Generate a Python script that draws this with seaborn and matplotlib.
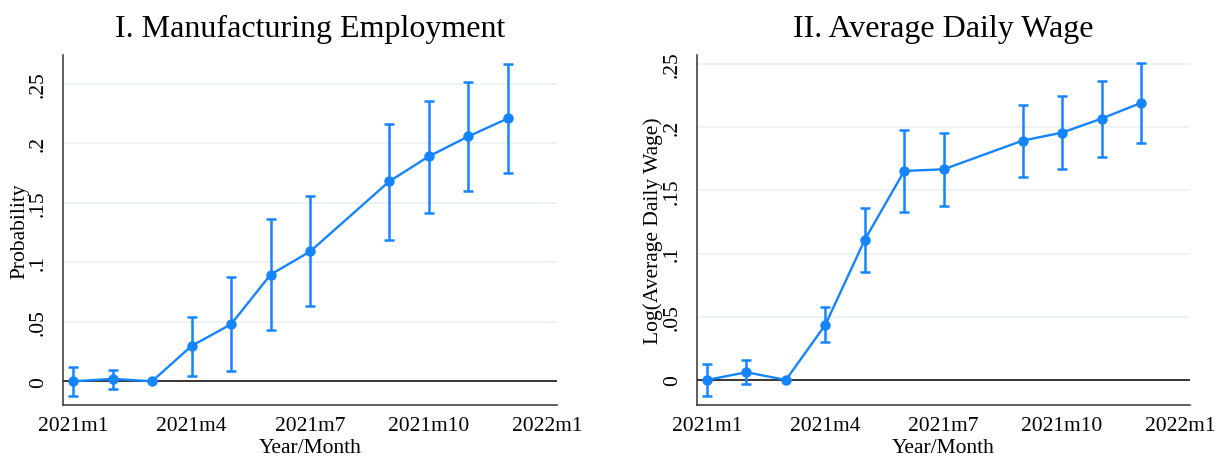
import numpy as np
import pandas as pd
import matplotlib
matplotlib.use("Agg")
import matplotlib.pyplot as plt
import seaborn as sns

# ===============================
# DATA
# ===============================
months = [0, 1, 2, 3, 4, 5, 6, 8, 9, 10, 11]   # months since 2021m1
tick_pos = [0, 3, 6, 9, 12]
tick_labels = ["2021m1", "2021m4", "2021m7", "2021m10", "2022m1"]
ytick_pos = [0, 0.05, 0.10, 0.15, 0.20, 0.25]
ytick_labels = ["0", ".05", ".1", ".15", ".2", ".25"]

emp_coef = [0.0, 0.002, 0.0, 0.0297, 0.0479, 0.0896, 0.109, 0.1678, 0.1888, 0.2056, 0.2207]
emp_lo = [-0.0123, -0.0064, np.nan, 0.0045, 0.0084, 0.0431, 0.063, 0.119, 0.1417, 0.1594, 0.1745]
emp_hi = [0.0123, 0.0098, np.nan, 0.0543, 0.0877, 0.1364, 0.1557, 0.2162, 0.2356, 0.2515, 0.2667]

wage_coef = [0.0, 0.0061, 0.0, 0.0436, 0.1109, 0.1653, 0.1666, 0.1893, 0.1956, 0.2067, 0.2191]
wage_lo = [-0.0127, -0.0034, np.nan, 0.0298, 0.0853, 0.133, 0.1378, 0.1608, 0.1666, 0.1763, 0.1877]
wage_hi = [0.0127, 0.0156, np.nan, 0.0576, 0.136, 0.1975, 0.1951, 0.2178, 0.2249, 0.2368, 0.2503]

# ===============================
# STYLE
# ===============================
sns.set_style("white")
plt.rcParams['font.family'] = ['Liberation Serif', 'DejaVu Serif']
plt.rcParams['text.color'] = 'black'
plt.rcParams['axes.labelcolor'] = 'black'
plt.rcParams['xtick.color'] = 'black'
plt.rcParams['ytick.color'] = 'black'
blue = "#1585ff"
grid_c = "#e9f1f3"

fig = plt.figure(figsize=(12.22, 4.6), dpi=100)
ax1 = fig.add_axes([0.0518, 0.1174, 0.4038, 0.7609])
ax2 = fig.add_axes([0.5706, 0.1174, 0.4032, 0.7609])


def panel(ax, coef, lo, hi, title, ylabel, ylim):
    df = pd.DataFrame({"m": months, "b": coef, "lo": lo, "hi": hi})
    for y in ytick_pos[1:]:
        ax.axhline(y, color=grid_c, lw=1.2, zorder=0)
    ax.axhline(0, color="black", lw=1.1, zorder=1)
    sub = df.dropna()
    ax.errorbar(sub["m"], sub["b"], yerr=[sub["b"] - sub["lo"], sub["hi"] - sub["b"]],
                fmt="none", ecolor=blue, elinewidth=1.8, capsize=3.5, capthick=1.8, zorder=2)
    sns.lineplot(data=df, x="m", y="b", ax=ax, color=blue, lw=1.7,
                 marker="o", markersize=7.5, markeredgewidth=0, zorder=3)
    ax.set_xlim(-0.245, 12.24)
    ax.set_ylim(*ylim)
    ax.set_xticks(tick_pos)
    ax.set_xticklabels(tick_labels, fontsize=15.5)
    ax.set_yticks(ytick_pos)
    ax.set_yticklabels(ytick_labels, fontsize=15.5, rotation=90, va="center")
    ax.tick_params(axis="x", length=5, width=1, color="#444444", pad=3)
    ax.tick_params(axis="y", length=0, pad=11)
    ax.set_xlabel("Year/Month", fontsize=15.5, labelpad=2)
    ax.set_ylabel(ylabel, fontsize=15.5, labelpad=0)
    ax.set_title(title, fontsize=23, pad=14, color="black")
    for s in ["top", "right"]:
        ax.spines[s].set_visible(False)
    for s in ["left", "bottom"]:
        ax.spines[s].set_color("#333333")
        ax.spines[s].set_linewidth(1.1)


panel(ax1, emp_coef, emp_lo, emp_hi, "I. Manufacturing Employment", "Probability", (-0.0199, 0.274))
panel(ax2, wage_coef, wage_lo, wage_hi, "II. Average Daily Wage", "Log(Average Daily Wage)", (-0.0198, 0.257))

fig.savefig("out.png", dpi=100)
